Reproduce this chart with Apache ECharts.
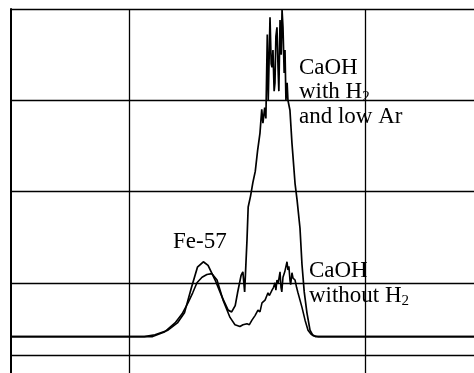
<!DOCTYPE html>
<html>
<head>
<meta charset="utf-8">
<script src="https://cdn.jsdelivr.net/npm/echarts@6/dist/echarts.min.js"></script>
<style>
  html, body { margin: 0; padding: 0; background: #fff; }
  #chart { width: 474px; height: 373px; }
</style>
</head>
<body>
<div id="chart"></div>
<script>
// Signal traces, [position, intensity] in arbitrary units
const withH2 = [
  [0, 41], [113, 41], [122, 43], [133, 48], [141, 56], [147, 67], [153, 95],
  [158, 117], [163, 123], [167, 119], [173, 103], [179, 84], [184, 70],
  [187, 68], [190, 75], [192, 89], [195, 108], [196.5, 112], [198, 90],
  [200, 147], [201, 183], [203, 195], [205, 210], [207, 222], [209, 245],
  [211, 264], [212.5, 290], [213.5, 275], [215, 292], [216, 280],
  [217.2, 372], [218, 300], [219.5, 391], [220.5, 340], [221.2, 336],
  [222, 355], [223, 310], [223.7, 319], [224.5, 370], [225.4, 380],
  [226.3, 336], [227, 310], [228, 388], [229, 350], [229.7, 399],
  [230.5, 380], [231.5, 330], [232.2, 355], [233, 300], [234, 319],
  [234.7, 300], [236.4, 289], [238.1, 253], [239, 238], [240.7, 209],
  [242.4, 191], [244.9, 160], [246.6, 120], [248.5, 90], [250.8, 67],
  [253.4, 48], [255.5, 43], [258, 41], [400, 41]
];

const withoutH2 = [
  [0, 41], [120, 41], [130, 46], [139, 56], [145, 66], [150, 78], [154, 89],
  [157.6, 100], [161.9, 106], [166, 109], [170.3, 110], [174.6, 103],
  [179.7, 81], [185.6, 62], [189.8, 54], [194, 52], [196.6, 54], [198, 52],
  [200, 55], [202, 54], [204.2, 59], [205.5, 57], [206.8, 64], [208, 62],
  [209.3, 70], [211, 68], [212.7, 78], [214, 76], [215.3, 81], [216.5, 80],
  [217.8, 89], [219, 86], [221.2, 92], [222.5, 95], [223.7, 100],
  [224.5, 92], [225.4, 103], [226.5, 100], [228, 112], [228.8, 95],
  [229.5, 90], [230.5, 106], [232, 112], [233.9, 123], [234.7, 114],
  [235.5, 118], [236.4, 103], [237, 98], [238.1, 111], [239, 105],
  [240.7, 103], [242, 95], [243.2, 89], [246.6, 73], [249.2, 59],
  [251.7, 48], [254, 44], [256, 42], [260, 41], [400, 41]
];

// Grid lines drawn inside the frame
const verticalGrid = [100, 300];
const extraHorizontalGrid = [21];

const serif = 'Liberation Serif, Times New Roman, serif';
const gridLine = { color: '#000', width: 1.3, type: 'solid' };
const subStyle = { fontFamily: serif, fontSize: 15, lineHeight: 12, verticalAlign: 'bottom', color: '#000' };

const chart = echarts.init(document.getElementById('chart'), null, { renderer: 'canvas' });

chart.setOption({
  animation: false,
  backgroundColor: '#fff',
  grid: { left: 11, top: 9, width: 472, height: 365, outerBoundsMode: 'none' },
  xAxis: {
    type: 'value', min: 0, max: 400,
    axisLine: { show: false }, axisTick: { show: false },
    axisLabel: { show: false }, splitLine: { show: false }
  },
  yAxis: {
    type: 'value', min: 0, max: 400, interval: 100,
    axisLine: { show: true, lineStyle: { color: '#000', width: 2 } },
    axisTick: { show: false }, axisLabel: { show: false },
    splitLine: { show: true, lineStyle: gridLine }
  },
  series: [
    {
      name: 'CaOH with H2 and low Ar',
      type: 'line',
      data: withH2,
      symbol: 'none',
      lineStyle: { color: '#000', width: 1.7 },
      markLine: {
        silent: true,
        symbol: ['none', 'none'],
        label: { show: false },
        lineStyle: gridLine,
        data: verticalGrid.map(v => ({ xAxis: v }))
          .concat(extraHorizontalGrid.map(v => ({ yAxis: v })))
      },
      markPoint: {
        symbol: 'circle', symbolSize: 0, silent: true,
        label: {
          show: true, position: 'inside', align: 'left', verticalAlign: 'middle',
          color: '#000', fontFamily: serif, fontSize: 23, lineHeight: 24.5
        },
        data: [
          {
            coord: [244, 309],
            label: {
              formatter: 'CaOH\nwith H{sub|2}\nand low Ar',
              rich: { sub: subStyle }
            }
          },
          {
            coord: [160, 145],
            label: { formatter: 'Fe-57', align: 'center' }
          }
        ]
      }
    },
    {
      name: 'CaOH without H2',
      type: 'line',
      data: withoutH2,
      symbol: 'none',
      lineStyle: { color: '#000', width: 1.6 },
      markPoint: {
        symbol: 'circle', symbolSize: 0, silent: true,
        label: {
          show: true, position: 'inside', align: 'left', verticalAlign: 'middle',
          color: '#000', fontFamily: serif, fontSize: 23, lineHeight: 25
        },
        data: [
          {
            coord: [252.5, 99],
            label: {
              formatter: 'CaOH\nwithout H{sub|2}',
              rich: { sub: subStyle }
            }
          }
        ]
      }
    }
  ]
});
</script>
</body>
</html>
